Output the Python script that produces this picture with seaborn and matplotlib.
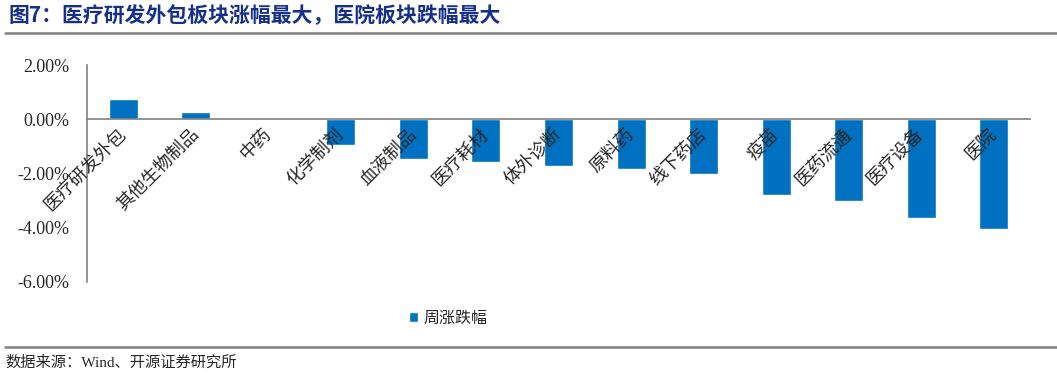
import matplotlib
matplotlib.use('Agg')
import matplotlib.pyplot as plt
import matplotlib.ticker as mticker
import pandas as pd
import seaborn as sns

categories = ['医疗研发外包', '其他生物制品', '中药', '化学制剂', '血液制品', '医疗耗材',
              '体外诊断', '原料药', '线下药店', '疫苗', '医药流通', '医疗设备', '医院']
weekly_change = [0.75, 0.26, 0.03, -0.97, -1.47, -1.59, -1.75, -1.83, -2.02,
                 -2.79, -3.01, -3.65, -4.05]
series_name = '周涨跌幅'
y_ticks = [2, 0, -2, -4, -6]

title = '图7：医疗研发外包板块涨幅最大，医院板块跌幅最大'
source = '数据来源：Wind、开源证券研究所'

sns.set_style('white')
plt.rcParams['font.family'] = ['Liberation Serif', 'Noto Sans CJK SC', 'DejaVu Sans']
cjk = ['Noto Sans CJK SC', 'DejaVu Sans']

df = pd.DataFrame({'板块': categories, 'value': weekly_change})

fig = plt.figure(figsize=(10.57, 3.77), dpi=100)
ax = fig.add_axes([87 / 1057, 1 - 281.5 / 377, (1030 - 87) / 1057, (281.5 - 65) / 377])

sns.barplot(data=df, x='板块', y='value', order=categories, color='#0070C0',
            width=0.4, saturation=1, label=series_name, ax=ax)
ax.set_axisbelow(False)

ax.set_ylim(-6, 2)
ax.set_xlim(-0.5, len(categories) - 0.5)
ax.set_yticks(y_ticks)
ax.yaxis.set_major_formatter(mticker.FuncFormatter(lambda v, p: f'{v:.2f}%'))
ax.set_xlabel('')
ax.set_ylabel('')

for s in ['top', 'right']:
    ax.spines[s].set_visible(False)
ax.spines['bottom'].set_position(('data', 0))
for s in ['left', 'bottom']:
    ax.spines[s].set_color('#808080')
    ax.spines[s].set_linewidth(1.2)

ax.tick_params(axis='y', direction='in', length=4, color='#808080', pad=13,
               labelsize=13)
ax.xaxis.set_minor_locator(mticker.FixedLocator([i + 0.5 for i in range(-1, len(categories))]))
ax.tick_params(axis='x', which='major', length=0, pad=9)
ax.tick_params(axis='x', which='minor', direction='in', length=5, color='#808080')
ax.set_xticks(range(len(categories)))
ax.set_xticklabels(categories, rotation=45, ha='right', va='center',
                   rotation_mode='anchor', family=cjk, fontsize=13)

leg = ax.legend(loc='center', bbox_to_anchor=(448 / 1057, 1 - 318 / 377),
                bbox_transform=fig.transFigure, frameon=False, handlelength=0.6,
                handleheight=0.6, handletextpad=0.3, prop={'family': cjk, 'size': 11.5})

fig.text(8 / 1057, 1 - 16 / 377, title, family=cjk, fontsize=15, fontweight='bold',
         color='#16308A', ha='left', va='center')
fig.add_artist(plt.Line2D([5 / 1057, 1], [1 - 33 / 377] * 2, color='#808080', lw=1.8,
                          transform=fig.transFigure))
fig.add_artist(plt.Line2D([5 / 1057, 1], [1 - 347 / 377] * 2, color='#808080', lw=1.8,
                          transform=fig.transFigure))
fig.text(5 / 1057, 1 - 363 / 377, source, fontsize=11, ha='left', va='center',
         family=['Liberation Serif', 'Noto Sans CJK SC'])

fig.savefig('out.png', dpi=100)
